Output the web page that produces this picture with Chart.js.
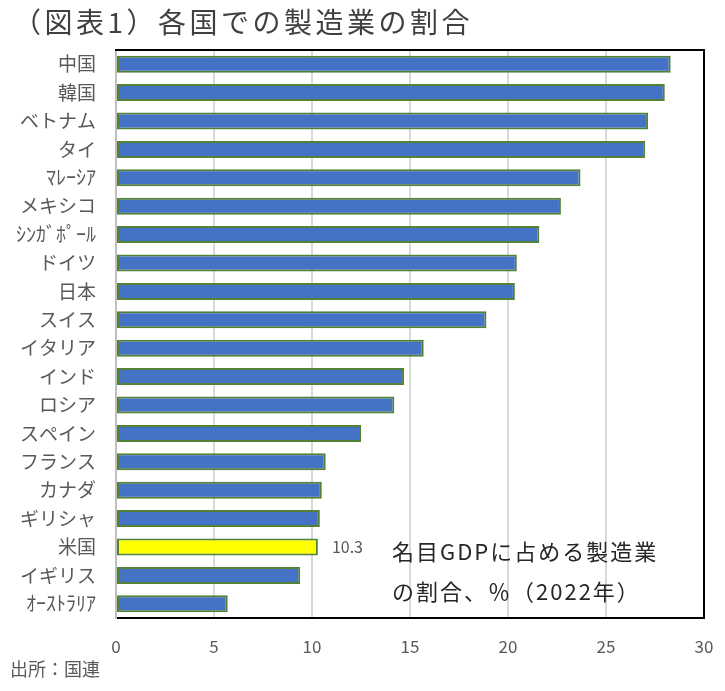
<!DOCTYPE html>
<html>
<head>
<meta charset="utf-8">
<script src="https://cdn.jsdelivr.net/npm/chart.js@4"></script>
<style>
html,body{margin:0;padding:0;background:#fff;}
#wrap{width:725px;height:691px;}
</style>
</head>
<body>
<div id="wrap"><canvas id="c" width="725" height="691"></canvas></div>
<script>
const countries = ["中国","韓国","ベトナム","タイ","ﾏﾚｰｼｱ","メキシコ","ｼﾝｶﾞﾎﾟｰﾙ","ドイツ","日本","スイス","イタリア","インド","ロシア","スペイン","フランス","カナダ","ギリシャ","米国","イギリス","ｵｰｽﾄﾗﾘｱ"];
const shares = [28.3,28.0,27.15,27.0,23.7,22.7,21.6,20.45,20.35,18.9,15.7,14.7,14.2,12.5,10.7,10.5,10.4,10.3,9.4,5.7];
const xTicks = [0,5,10,15,20,25,30];
const highlight = "米国";
const titleText = "（図表1）各国での製造業の割合";
const noteLines = ["名目GDPに占める製造業","の割合、％（2022年）"];
const sourceText = "出所：国連";

const FONT = "'Noto Sans CJK JP','Noto Sans',sans-serif";
const halfWidth = new Set(["ﾏﾚｰｼｱ","ｼﾝｶﾞﾎﾟｰﾙ","ｵｰｽﾄﾗﾘｱ"]);

function drawSpaced(ctx, text, x, y, spacing){
  let cx = x;
  for (const ch of text){
    ctx.fillText(ch, cx, y);
    cx += ctx.measureText(ch).width + spacing;
  }
}

const decor = {
  id:'decor',
  afterDraw(chart){
    const {ctx, chartArea:a} = chart;
    ctx.save();
    ctx.strokeStyle = '#000';
    ctx.lineWidth = 2;
    ctx.beginPath();
    ctx.moveTo(a.left-1, a.top);
    ctx.lineTo(a.right, a.top);
    ctx.lineTo(a.right, a.bottom+1);
    ctx.stroke();
    ctx.textBaseline = 'middle';
    ctx.textAlign = 'left';
    // title
    ctx.fillStyle = '#404040';
    ctx.font = "28px " + FONT;
    drawSpaced(ctx, titleText, 13, 22, 3.5);
    // note
    ctx.font = "22px " + FONT;
    ctx.fillStyle = '#262626';
    drawSpaced(ctx, noteLines[0], 392, 552, 2);
    drawSpaced(ctx, noteLines[1], 392, 592, 2);
    // source
    ctx.font = "18px " + FONT;
    ctx.fillStyle = '#595959';
    ctx.fillText(sourceText, 10, 669);
    // value label
    const idx = countries.indexOf(highlight);
    const el = chart.getDatasetMeta(0).data[idx];
    ctx.font = "16px " + FONT;
    ctx.fillStyle = '#595959';
    ctx.fillText(shares[idx].toFixed(1), el.x + 14, el.y);
    ctx.restore();
  }
};

new Chart(document.getElementById('c'), {
  type:'bar',
  data:{
    labels: countries,
    datasets:[{
      data: shares,
      backgroundColor: countries.map(c => c===highlight ? '#FFFF00' : '#4472C4'),
      borderColor: '#548235',
      borderWidth: 2,
      borderSkipped: false,
      barPercentage: 0.6,
      categoryPercentage: 1.0
    }]
  },
  options:{
    indexAxis:'y',
    responsive:false,
    animation:false,
    layout:{padding:{top:50,right:21,left:0,bottom:0}},
    plugins:{legend:{display:false},tooltip:{enabled:false},title:{display:false}},
    scales:{
      x:{
        min:0,max:30,
        afterBuildTicks(s){ s.ticks = xTicks.map(v=>({value:v})); },
        afterFit(s){ s.height = 73; s.paddingLeft = 0; s.paddingRight = 0; },
        grid:{color:'#D9D9D9',lineWidth:2,drawTicks:false},
        border:{color:'#000',width:2},
        ticks:{color:'#595959',font:{family:FONT,size:17},padding:18,maxRotation:0}
      },
      y:{
        afterFit(s){ s.width = 116; s.paddingTop = 0; s.paddingBottom = 0; },
        grid:{display:false,drawTicks:false},
        border:{color:'#BFBFBF',width:2},
        ticks:{
          color:'#595959',
          padding:20,
          font:(ctx)=>({family:FONT,size: halfWidth.has(countries[ctx.index]) ? 20 : 19})
        }
      }
    }
  },
  plugins:[decor]
});
</script>
</body>
</html>
